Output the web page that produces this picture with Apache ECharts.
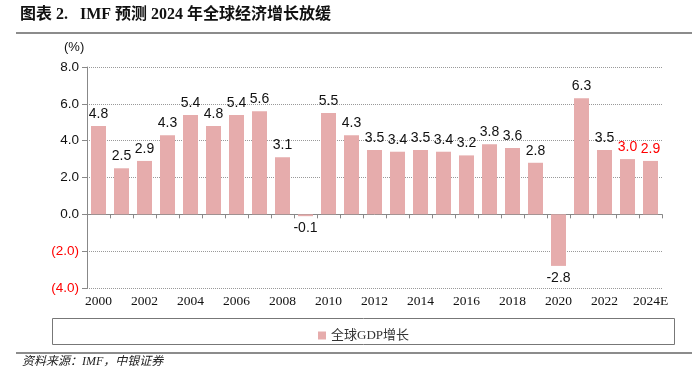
<!DOCTYPE html>
<html><head><meta charset="utf-8">
<script src="https://cdn.jsdelivr.net/npm/echarts@6/dist/echarts.min.js"></script>
<style>html,body{margin:0;padding:0;background:#fff}#c{width:692px;height:386px}</style>
</head><body><div id="c"></div>
<script>
var years = ['2000','2001','2002','2003','2004','2005','2006','2007','2008','2009','2010','2011','2012','2013','2014','2015','2016','2017','2018','2019','2020','2021','2022','2023','2024E'];
var gdpGrowth = [4.8,2.5,2.9,4.3,5.4,4.8,5.4,5.6,3.1,-0.1,5.5,4.3,3.5,3.4,3.5,3.4,3.2,3.8,3.6,2.8,-2.8,6.3,3.5,3.0,2.9];
var forecastYears = ['2023','2024E'];
var seriesName = '全球GDP增长';
var titleText = '图表 2.   IMF 预测 2024 年全球经济增长放缓';
var sourceText = '资料来源：IMF，中银证券';
var unitText = '(%)';

var barColor = '#E6ACAC';
var data = gdpGrowth.map(function(v, i){
  var red = forecastYears.indexOf(years[i]) >= 0;
  return {value: v, label: {position: v < 0 ? 'bottom' : 'top', color: red ? '#FF0000' : '#111'}};
});

var chart = echarts.init(document.getElementById('c'));
chart.setOption({
  animation: false,
  grid: {left: 87, right: 30, top: 67, bottom: 98},
  legend: {
    data: [seriesName], left: 313, top: 324, itemWidth: 8, itemHeight: 8, itemGap: 6,
    icon: 'rect',
    textStyle: {fontFamily: '"Liberation Serif","Noto Sans CJK SC",serif', fontSize: 13, color: '#333'}
  },
  xAxis: [{
    type: 'category', data: years, position: 'bottom',
    axisLine: {show: false, onZero: false}, axisTick: {show: false},
    axisLabel: {interval: 1, margin: 6, fontFamily: '"Liberation Serif",serif', fontSize: 13.5, color: '#111'}
  }, {
    type: 'category', data: years, position: 'bottom',
    axisLine: {show: true, onZero: true, lineStyle: {color: '#888', width: 1}},
    axisTick: {show: true, interval: 0, length: 4, lineStyle: {color: '#888'}},
    axisLabel: {show: false}
  }],
  yAxis: {
    type: 'value', min: -4, max: 8, interval: 2,
    axisLine: {show: true, lineStyle: {color: '#888'}},
    axisTick: {show: true, length: 5, lineStyle: {color: '#888'}},
    splitLine: {show: true, lineStyle: {color: '#999', type: 'dotted', width: 1}},
    axisLabel: {
      margin: 8, fontFamily: '"Liberation Sans",Arial,sans-serif', fontSize: 13.5, color: '#111',
      formatter: function(v){ return v < 0 ? '{r|(' + Math.abs(v).toFixed(1) + ')}' : v.toFixed(1); },
      rich: {r: {color: '#FF0000', fontFamily: '"Liberation Sans",Arial,sans-serif', fontSize: 13.5}}
    }
  },
  series: [{
    name: seriesName, type: 'bar', data: data, barWidth: 15,
    itemStyle: {color: barColor},
    label: {show: true, distance: 5, fontFamily: '"Liberation Sans",Arial,sans-serif', fontSize: 14,
      formatter: function(p){ return p.value.toFixed(1); }}
  }],
  graphic: [
    {type: 'text', left: 20, top: 7, style: {text: titleText, font: 'bold 16px "Liberation Serif","Noto Sans CJK SC",serif', fill: '#111'}},
    {type: 'line', shape: {x1: 16, y1: 33, x2: 692, y2: 33}, style: {stroke: '#666', lineWidth: 1.5}},
    {type: 'text', left: 64, top: 41, style: {text: unitText, font: '13px "Liberation Sans",Arial,sans-serif', fill: '#111'}},
    {type: 'rect', shape: {x: 52.5, y: 318.5, width: 622, height: 26}, style: {fill: 'none', stroke: '#777', lineWidth: 1}, z: -1},
    {type: 'line', shape: {x1: 16, y1: 353, x2: 692, y2: 353}, style: {stroke: '#666', lineWidth: 1.5}},
    {type: 'text', left: 22, top: 356, style: {text: sourceText, font: 'italic 12px "Liberation Serif","Noto Sans CJK SC",serif', fill: '#222'}}
  ]
});
</script></body></html>
